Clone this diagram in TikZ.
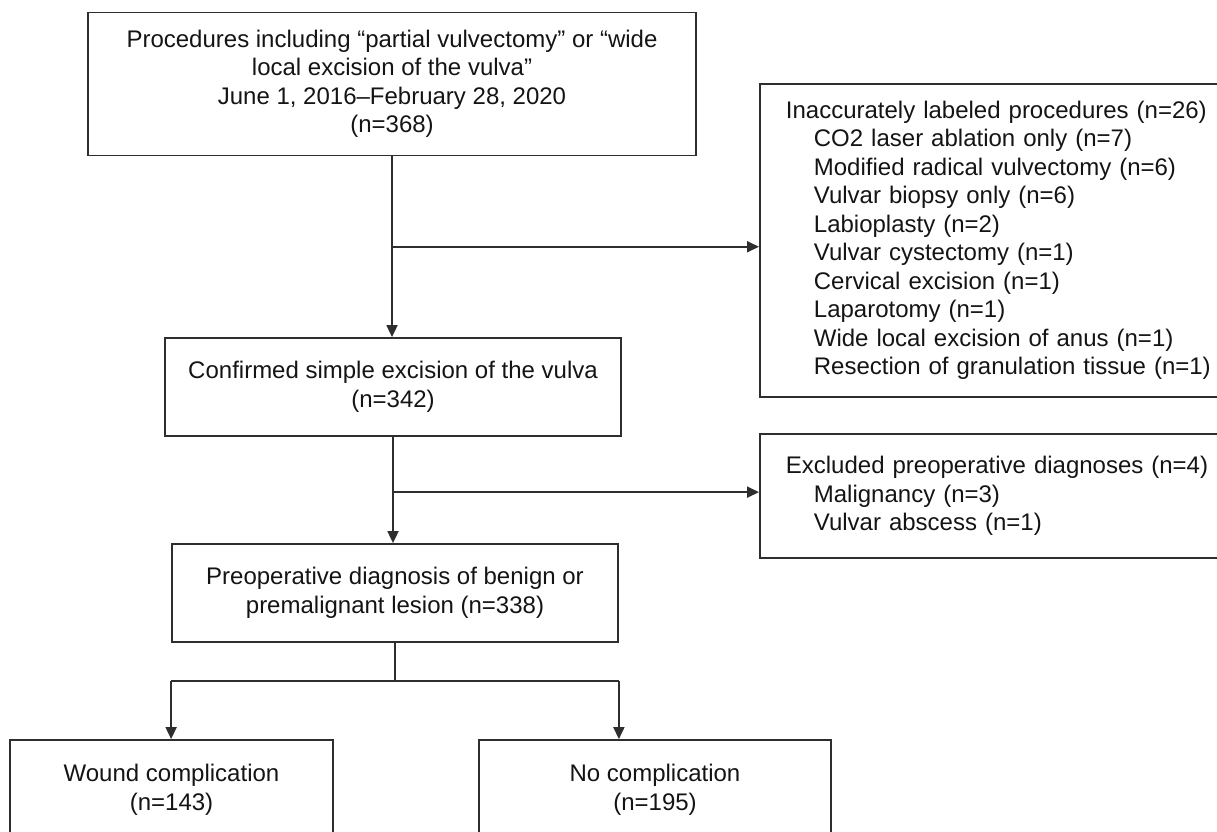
\documentclass[tikz,border=0pt]{standalone}
\usepackage{fontspec}
\setmainfont{Liberation Sans}
\usetikzlibrary{arrows.meta,calc}

\begin{document}
\begin{tikzpicture}[x=1pt,y=-1pt,
  every node/.style={font=\fontsize{24}{28.5}\selectfont,text=black!92},
  box/.style={draw=black!82,line width=1.8pt,align=center,inner sep=0pt},
  side/.style={draw=black!82,line width=1.8pt,align=left,anchor=north west,inner xsep=26pt,inner ysep=0pt,text width=429pt},
  ln/.style={draw=black!82,line width=1.8pt},
  ar/.style={ln,-{Triangle[length=12pt,width=11pt]}}]
\useasboundingbox (0,0) rectangle (1217,831);
\clip (0,0) rectangle (1217,831);
\node[box,minimum width=608pt,minimum height=143pt] (top) at (392,84) {Procedures including “partial vulvectomy” or “wide\\local excision of the vulva”\\June 1, 2016–February 28, 2020\\(n=368)};
\node[box,minimum width=456pt,minimum height=98pt] (conf) at (393,387) {Confirmed simple excision of the vulva\\(n=342)};
\node[box,minimum width=446pt,minimum height=98pt] (prep) at (395,593) {Preoperative diagnosis of benign or\\premalignant lesion (n=338)};
\node[side,minimum height=313pt] (inacc) at (759,83) {Inaccurately labeled procedures (n=26)\\
\hspace*{28pt}CO2 laser ablation only (n=7)\\
\hspace*{28pt}Modified radical vulvectomy (n=6)\\
\hspace*{28pt}Vulvar biopsy only (n=6)\\
\hspace*{28pt}Labioplasty (n=2)\\
\hspace*{28pt}Vulvar cystectomy (n=1)\\
\hspace*{28pt}Cervical excision (n=1)\\
\hspace*{28pt}Laparotomy (n=1)\\
\hspace*{28pt}Wide local excision of anus (n=1)\\
\hspace*{28pt}Resection of granulation tissue (n=1)};
\node[side,minimum height=124pt] (excl) at (759,433) {Excluded preoperative diagnoses (n=4)\\
\hspace*{28pt}Malignancy (n=3)\\
\hspace*{28pt}Vulvar abscess (n=1)};
\node[box,minimum width=323pt,minimum height=100pt] (wound) at (171.5,790) {Wound complication\\(n=143)};
\node[box,minimum width=352pt,minimum height=100pt] (nocomp) at (655,790) {No complication\\(n=195)};
% main flow
\draw[ar] (top.south) -- (top.south |- conf.north);
\draw[ar] (conf.south) -- (conf.south |- prep.north);
\coordinate (j1) at ($(top.south)!0.5!(top.south |- conf.north)$);
\coordinate (j2) at ($(conf.south)!0.52!(conf.south |- prep.north)$);
\draw[ar] (j1) -- (j1 -| inacc.west);
\draw[ar] (j2) -- (j2 -| excl.west);
% split to outcomes
\coordinate (s) at ($(prep.south)+(0,38)$);
\coordinate (sl) at (s -| prep.west);
\coordinate (sr) at (s -| prep.east);
\draw[ln] (prep.south) -- (s);
\draw[ln] (sl) -- (sr);
\draw[ar] (sl) -- (sl |- wound.north);
\draw[ar] (sr) -- (sr |- nocomp.north);
\end{tikzpicture}
\end{document}
